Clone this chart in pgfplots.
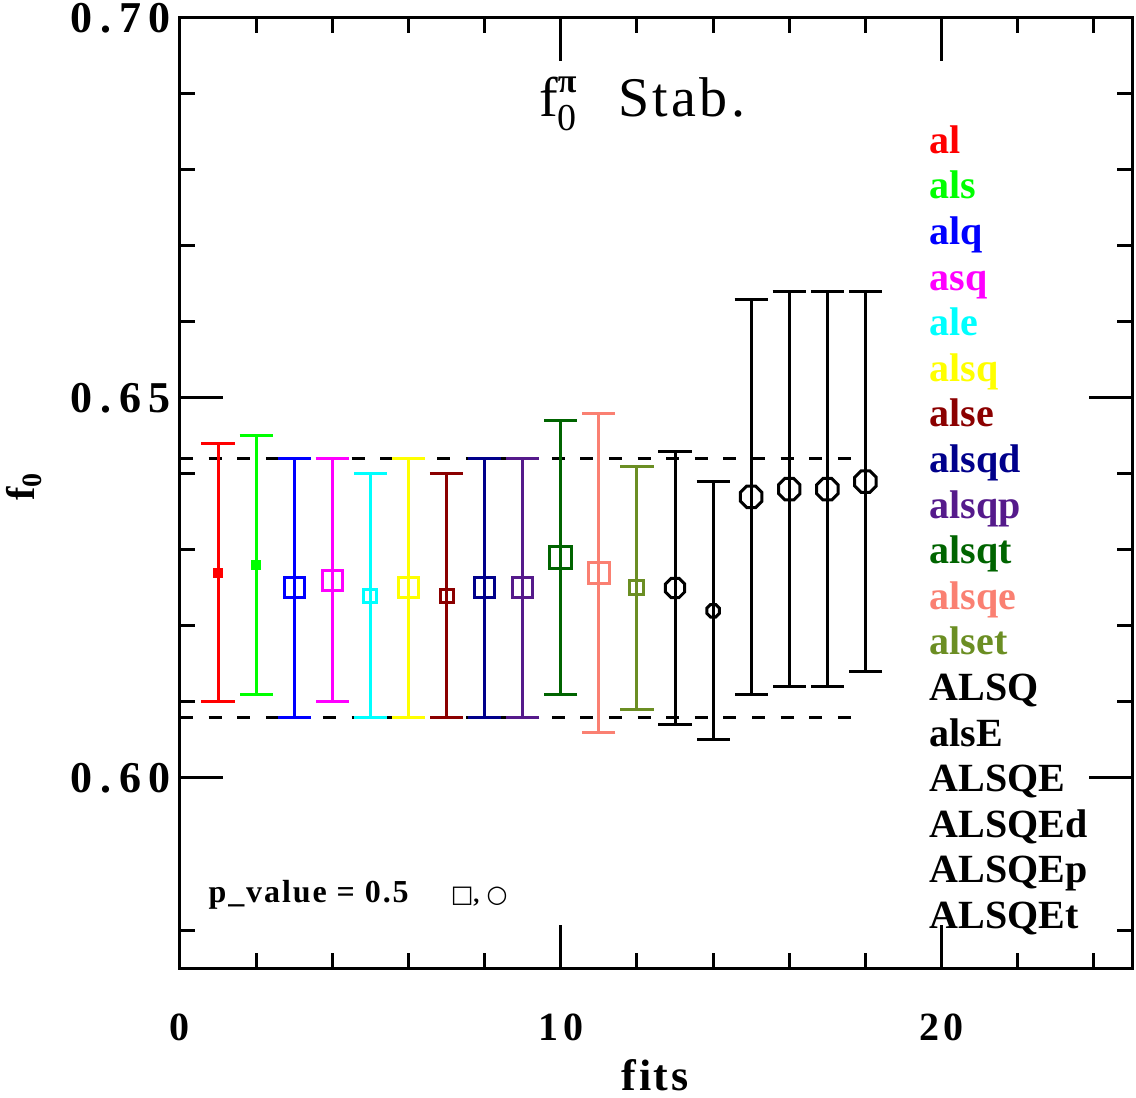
\documentclass[border=0pt]{standalone}
\usepackage{fontspec}
\setmainfont{Liberation Serif}
\newfontfamily\symfont{DejaVu Sans}
\usepackage{pgfplots}
\pgfplotsset{compat=1.18}

% series colours
\definecolor{cRed}{RGB}{255,0,0}
\definecolor{cGreen}{RGB}{0,255,0}
\definecolor{cBlue}{RGB}{0,0,255}
\definecolor{cMagenta}{RGB}{255,0,255}
\definecolor{cCyan}{RGB}{0,255,255}
\definecolor{cYellow}{RGB}{255,255,0}
\definecolor{cDarkRed}{RGB}{139,0,0}
\definecolor{cNavy}{RGB}{0,0,139}
\definecolor{cPurple}{RGB}{85,26,139}
\definecolor{cDarkGreen}{RGB}{0,100,0}
\definecolor{cSalmon}{RGB}{250,128,114}
\definecolor{cOlive}{RGB}{107,142,35}

% open octagon used for the circle-type fits
\pgfdeclareplotmark{octagon}{%
  \pgfpathmoveto{\pgfpointpolar{22.5}{\pgfplotmarksize}}%
  \pgfpathlineto{\pgfpointpolar{67.5}{\pgfplotmarksize}}%
  \pgfpathlineto{\pgfpointpolar{112.5}{\pgfplotmarksize}}%
  \pgfpathlineto{\pgfpointpolar{157.5}{\pgfplotmarksize}}%
  \pgfpathlineto{\pgfpointpolar{202.5}{\pgfplotmarksize}}%
  \pgfpathlineto{\pgfpointpolar{247.5}{\pgfplotmarksize}}%
  \pgfpathlineto{\pgfpointpolar{292.5}{\pgfplotmarksize}}%
  \pgfpathlineto{\pgfpointpolar{337.5}{\pgfplotmarksize}}%
  \pgfpathclose
  \pgfusepathqstroke
}

\newcommand\tickfont{\fontsize{20}{24}\selectfont\bfseries\addfontfeature{LetterSpace=12}}
\newcommand\ytickfont{\fontsize{22}{26}\selectfont\bfseries\addfontfeature{LetterSpace=18}}
\newcommand\labfont{\fontsize{20}{24}\selectfont\bfseries}
\newcommand\pvfont{\fontsize{16}{18}\selectfont\bfseries\addfontfeature{LetterSpace=6}}
\newcommand\ttlfont{\fontsize{28}{32}\selectfont\addfontfeature{LetterSpace=6}}

\pgfplotsset{
  fit/.style={only marks, mark options={line width=1.5pt, solid},
    error bars/.cd, y dir=both, y explicit,
    error bar style={line width=1.5pt},
    error mark options={rotate=90, mark size=8.3pt, line width=1.5pt},
    /pgfplots/.cd},
}

\begin{document}
\begin{tikzpicture}
\begin{axis}[
  scale only axis, width=476pt, height=475pt,
  xmin=0, xmax=25, ymin=0.575, ymax=0.70,
  clip=false,
  xtick={0,10,20}, xticklabels={0,10,20},
  minor xtick={2,4,6,8,12,14,16,18,22,24},
  ytick={0.60,0.65,0.70}, yticklabels={0.60,0.65,0.70},
  minor ytick={0.58,0.61,0.62,0.63,0.64,0.66,0.67,0.68,0.69},
  tick align=inside,
  major tick length=21.5pt, minor tick length=7.5pt,
  every tick/.style={line width=1.5pt, black},
  axis line style={line width=1.5pt},
  xticklabel style={font=\tickfont, yshift=-19.5pt},
  yticklabel style={font=\ytickfont, xshift=-1pt},
]
% reference band
\addplot[black, line width=1.5pt, dash pattern=on 6.5pt off 7.8pt] coordinates {(0,0.642) (17.8,0.642)};
\addplot[black, line width=1.5pt, dash pattern=on 6.5pt off 7.8pt] coordinates {(0,0.608) (17.8,0.608)};

% fits
\addplot[cRed, mark=square*, mark size=1.75pt, fit] coordinates {(1,0.627) +- (0,0.017)};
\addplot[cGreen, mark=square*, mark size=1.75pt, fit] coordinates {(2,0.628) +- (0,0.017)};
\addplot[cBlue, mark=square, mark size=5pt, fit] coordinates {(3,0.625) +- (0,0.017)};
\addplot[cMagenta, mark=square, mark size=5pt, fit] coordinates {(4,0.626) +- (0,0.016)};
\addplot[cCyan, mark=square, mark size=3.25pt, fit] coordinates {(5,0.624) +- (0,0.016)};
\addplot[cYellow, mark=square, mark size=5pt, fit] coordinates {(6,0.625) +- (0,0.017)};
\addplot[cDarkRed, mark=square, mark size=3.25pt, fit] coordinates {(7,0.624) +- (0,0.016)};
\addplot[cNavy, mark=square, mark size=5pt, fit] coordinates {(8,0.625) +- (0,0.017)};
\addplot[cPurple, mark=square, mark size=5pt, fit] coordinates {(9,0.625) +- (0,0.017)};
\addplot[cDarkGreen, mark=square, mark size=5.5pt, fit] coordinates {(10,0.629) +- (0,0.018)};
\addplot[cSalmon, mark=square, mark size=5.25pt, fit] coordinates {(11,0.627) +- (0,0.021)};
\addplot[cOlive, mark=square, mark size=3.5pt, fit] coordinates {(12,0.625) +- (0,0.016)};
\addplot[black, mark=octagon, mark size=5.2pt, fit] coordinates {(13,0.625) +- (0,0.018)};
\addplot[black, mark=octagon, mark size=3.4pt, fit] coordinates {(14,0.622) +- (0,0.017)};
\addplot[black, mark=octagon, mark size=5.8pt, fit] coordinates {(15,0.637) +- (0,0.026)};
\addplot[black, mark=octagon, mark size=5.8pt, fit] coordinates {(16,0.638) +- (0,0.026)};
\addplot[black, mark=octagon, mark size=5.8pt, fit] coordinates {(17,0.638) +- (0,0.026)};
\addplot[black, mark=octagon, mark size=5.8pt, fit] coordinates {(18,0.639) +- (0,0.025)};

% title
\node[anchor=base west, inner sep=0pt, font=\ttlfont]
  at (axis cs:9.42,0.687)
  {f\rlap{\raisebox{-0.55ex}{\fontsize{19}{19}\selectfont 0}}\raisebox{0.95ex}{\fontsize{17}{17}\selectfont\bfseries π}\hspace{0.75em}Stab.};

% fit labels
\foreach \lab/\col [count=\k from 0] in {al/cRed, als/cGreen, alq/cBlue, asq/cMagenta,
    ale/cCyan, alsq/cYellow, alse/cDarkRed, alsqd/cNavy, alsqp/cPurple,
    alsqt/cDarkGreen, alsqe/cSalmon, alset/cOlive, ALSQ/black, alsE/black,
    ALSQE/black, ALSQEd/black, ALSQEp/black, ALSQEt/black}{
  \edef\temp{\noexpand\node[anchor=base west, inner sep=0pt, text=\col,
      font=\noexpand\labfont] at (axis cs:19.68,{0.6822-0.006*\k}) {\lab};}
  \temp
}

% p-value note
\node[anchor=base west, inner sep=0pt, font=\pvfont] at (axis cs:0.74,0.5836) {p\_value = 0.5};
\node[anchor=base west, inner sep=0pt, font=\fontsize{12}{14}\selectfont\bfseries] at (axis cs:7.1,0.5836) {{\symfont\bfseries □},\hspace{0.3em}{\symfont\bfseries ○}};

% axis labels
\node[rotate=90, font=\labfont] at ([xshift=-78pt]rel axis cs:0,0.507) {f\textsubscript{0}};
\node[font=\fontsize{22}{26}\selectfont\bfseries\addfontfeature{LetterSpace=6}] at ([yshift=-53.5pt]rel axis cs:0.499,0) {fits};

\coordinate (bl) at (rel axis cs:0,0);
\end{axis}
\pgfresetboundingbox
\path[use as bounding box] (bl) ++(-90pt,-65pt) rectangle ++(568pt,549pt);
\end{tikzpicture}
\end{document}
